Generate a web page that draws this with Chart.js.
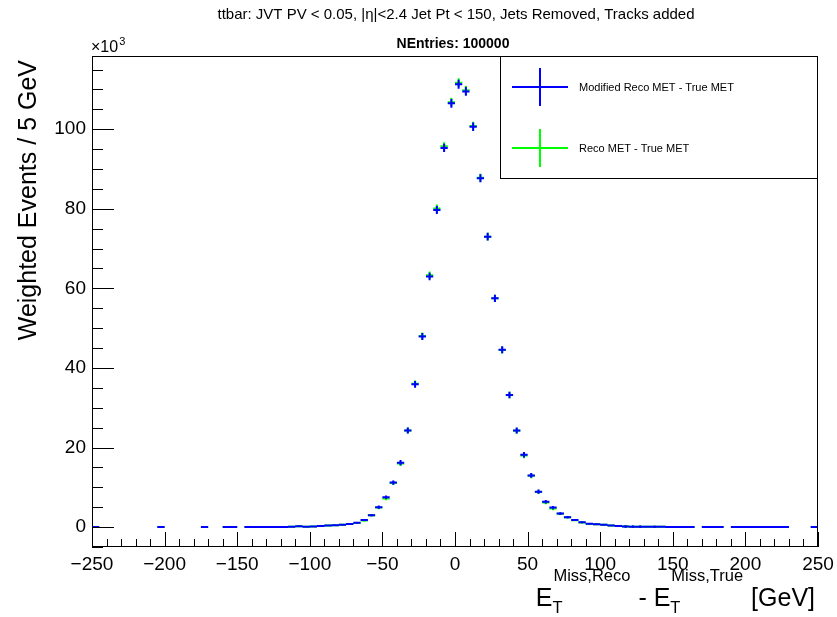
<!DOCTYPE html>
<html>
<head>
<meta charset="utf-8">
<script src="https://cdn.jsdelivr.net/npm/chart.js@4.4.1/dist/chart.umd.min.js"></script>
<style>
  body { margin: 0; background: #fff; }
  canvas { display: block; }
</style>
</head>
<body>
<canvas id="c" width="837" height="617"></canvas>
<script>
        // Bin centres (5 GeV bins) that have entries; empty bins are not drawn
        const binCenters = [
            -247.5, -202.5, -172.5, -157.5, -152.5,
            -142.5, -137.5, -132.5, -127.5, -122.5, -117.5, -112.5, -107.5, -102.5, -97.5,
            -92.5, -87.5, -82.5, -77.5, -72.5, -67.5, -62.5, -57.5, -52.5, -47.5,
            -42.5, -37.5, -32.5, -27.5, -22.5, -17.5, -12.5, -7.5, -2.5, 2.5,
            7.5, 12.5, 17.5, 22.5, 27.5, 32.5, 37.5, 42.5, 47.5, 52.5,
            57.5, 62.5, 67.5, 72.5, 77.5, 82.5, 87.5, 92.5, 97.5, 102.5,
            107.5, 112.5, 117.5, 122.5, 127.5, 132.5, 137.5, 142.5, 147.5, 152.5,
            157.5, 162.5,
            172.5, 177.5, 182.5,
            192.5, 197.5, 202.5, 207.5, 212.5, 217.5, 222.5, 227.5,
            247.5
        ];
        const binWidth = 5;

        // Modified Reco MET - True MET
        const modifiedMet = [
            10, 10, 10, 10, 10,
            20, 20, 25, 30, 35, 45, 60, 200, 110, 150,
            250, 400, 480, 620, 800, 1100, 1800, 3000, 5000, 7500,
            11200, 16200, 24300, 35900, 47900, 63000, 79700, 95300, 106500, 111300,
            109500, 100600, 87700, 73000, 57500, 44600, 33200, 24300, 18200, 13000,
            8900, 6400, 4900, 3400, 2500, 1800, 1200, 820, 740, 620,
            420, 300, 150, 110, 90, 80, 70, 60, 55, 50,
            45, 40,
            20, 20, 20,
            15, 15, 15, 15, 15, 15, 15, 15,
            15
        ];
        const modifiedErr = [
            10, 10, 10, 10, 10,
            15, 15, 15, 20, 20, 25, 30, 150, 50, 60,
            100, 120, 120, 140, 150, 180, 240, 300, 400, 450,
            530, 640, 760, 850, 900, 950, 1000, 1050, 1100, 1120,
            1110, 1060, 1010, 980, 920, 880, 840, 760, 700, 620,
            520, 440, 400, 330, 280, 240, 200, 160, 150, 140,
            120, 100, 300, 300, 300, 20, 280, 20, 250, 15,
            15, 15,
            10, 10, 10,
            10, 10, 10, 10, 10, 10, 10, 10,
            10
        ];

        // Reco MET - True MET
        const recoMet = [
            10, 10, 10, 10, 10,
            20, 20, 25, 30, 35, 45, 60, 230, 110, 150,
            250, 400, 470, 600, 760, 1050, 1650, 2950, 4900, 7200,
            11100, 16000, 24300, 36000, 48000, 63300, 80100, 95700, 106800, 111700,
            109800, 100800, 87800, 73000, 57500, 44500, 33200, 24200, 18000, 12900,
            8850, 6200, 4650, 3350, 2450, 1750, 1150, 760, 700, 600,
            380, 290, 150, 110, 90, 80, 70, 60, 55, 50,
            45, 40,
            20, 20, 20,
            15, 15, 15, 15, 15, 15, 15, 15,
            15
        ];
        const recoErr = [
            10, 10, 10, 10, 10,
            15, 15, 15, 20, 20, 25, 30, 150, 50, 60,
            100, 120, 120, 140, 150, 180, 240, 300, 400, 450,
            530, 640, 760, 850, 900, 950, 1000, 1050, 1100, 1120,
            1110, 1060, 1010, 980, 920, 880, 840, 760, 700, 620,
            520, 440, 400, 330, 280, 240, 200, 160, 150, 140,
            120, 100, 300, 300, 300, 20, 280, 20, 250, 15,
            15, 15,
            10, 10, 10,
            10, 10, 10, 10, 10, 10, 10, 10,
            10
        ];

        const xTickLabels = [-250, -200, -150, -100, -50, 0, 50, 100, 150, 200, 250];
        const yTickLabels = [0, 20, 40, 60, 80, 100];   // in units of 10^3

        const FONT = '"Liberation Sans", Arial, Helvetica, sans-serif';

        function horizontalBars(values) {   // one segment across each bin
            const pts = [];
            binCenters.forEach((c, i) => {
                pts.push({ x: c - binWidth / 2, y: values[i] });
                pts.push({ x: c + binWidth / 2, y: values[i] });
                pts.push({ x: c + binWidth / 2, y: null });
            });
            return pts;
        }

        function verticalBars(values, errors) {   // error bar at each bin centre
            const pts = [];
            binCenters.forEach((c, i) => {
                pts.push({ x: c, y: values[i] - errors[i] });
                pts.push({ x: c, y: values[i] + errors[i] });
                pts.push({ x: c, y: null });
            });
            return pts;
        }

        function drawCross(ctx, cx, cy, color) {
            ctx.strokeStyle = color;
            ctx.lineWidth = 2;
            ctx.beginPath();
            ctx.moveTo(512, cy); ctx.lineTo(568, cy);
            ctx.moveTo(cx, cy - 19); ctx.lineTo(cx, cy + 19);
            ctx.stroke();
        }

        const rootStyle = {
            id: 'rootStyle',
            afterDatasetsDraw(chart) {
                const { ctx, chartArea: a, scales: { x, y } } = chart;
                ctx.save();
                ctx.strokeStyle = '#000';
                ctx.lineWidth = 1;
                ctx.beginPath();
                // x ticks, inside the frame
                for (let v = -250; v <= 250; v += 10) {
                    const px = Math.round(x.getPixelForValue(v)) + 0.5;
                    const len = v % 50 === 0 ? 15 : 8;
                    ctx.moveTo(px, a.bottom);
                    ctx.lineTo(px, a.bottom - len);
                }
                // y ticks
                for (let v = -5; v <= 115; v += 5) {
                    const py = Math.round(y.getPixelForValue(v * 1000)) + 0.5;
                    const len = v % 20 === 0 ? 22 : 11;
                    ctx.moveTo(a.left, py);
                    ctx.lineTo(a.left + len, py);
                }
                ctx.stroke();
                // frame
                ctx.strokeRect(a.left + 0.5, a.top + 0.5, a.right - a.left - 1, a.bottom - a.top - 1);
                ctx.restore();
            },
            afterDraw(chart) {
                const { ctx, chartArea: a, scales: { x, y } } = chart;
                ctx.save();
                ctx.fillStyle = '#000';

                // tick labels
                ctx.font = '19px ' + FONT;
                ctx.textAlign = 'center';
                ctx.textBaseline = 'alphabetic';
                xTickLabels.forEach(v => {
                    const txt = v < 0 ? '\u2212' + Math.abs(v) : String(v);
                    ctx.fillText(txt, x.getPixelForValue(v), 570);
                });
                ctx.textAlign = 'right';
                ctx.textBaseline = 'middle';
                yTickLabels.forEach(v => {
                    ctx.fillText(String(v), 86, y.getPixelForValue(v * 1000));
                });

                // x10^3
                ctx.textAlign = 'left';
                ctx.textBaseline = 'alphabetic';
                ctx.font = '16px ' + FONT;
                ctx.fillText('\u00d710', 91, 52);
                const w10 = ctx.measureText('\u00d710').width;
                ctx.font = '11px ' + FONT;
                ctx.fillText('3', 91 + w10 + 1, 45);

                // titles
                ctx.textAlign = 'center';
                ctx.font = '15px ' + FONT;
                ctx.fillText('ttbar: JVT PV < 0.05, |\u03b7|<2.4 Jet Pt < 150, Jets Removed, Tracks added', 456, 19);
                ctx.font = 'bold 14px ' + FONT;
                ctx.fillText('NEntries: 100000', 453, 48);

                // y axis title
                ctx.save();
                ctx.translate(36, 60);
                ctx.rotate(-Math.PI / 2);
                ctx.textAlign = 'right';
                ctx.font = '25px ' + FONT;
                ctx.fillText('Weighted Events / 5 GeV', 0, 0);
                ctx.restore();

                // x axis title: E_T^{Miss,Reco} - E_T^{Miss,True} [GeV]
                const big = '25px ' + FONT, small = '16.5px ' + FONT;
                const parts = [
                    { t: 'E', f: big, dy: 0 },
                    { sub: 'T', sup: 'Miss,Reco' },
                    { t: ' - ', f: big, dy: 0 },
                    { t: 'E', f: big, dy: 0 },
                    { sub: 'T', sup: 'Miss,True' },
                    { t: ' [GeV]', f: big, dy: 0 }
                ];
                const widthOf = p => {
                    if (p.t) { ctx.font = p.f; return ctx.measureText(p.t).width; }
                    ctx.font = small;
                    return Math.max(ctx.measureText(p.sub).width, ctx.measureText(p.sup).width) + 2;
                };
                const total = parts.reduce((s, p) => s + widthOf(p), 0);
                let cx = 815 - total;
                const base = 606;
                ctx.textAlign = 'left';
                parts.forEach(p => {
                    const w = widthOf(p);
                    if (p.t) {
                        ctx.font = p.f;
                        ctx.fillText(p.t, cx, base);
                    } else {
                        ctx.font = small;
                        ctx.fillText(p.sub, cx, base + 7);
                        ctx.fillText(p.sup, cx + 1, base - 25);
                    }
                    cx += w;
                });

                // legend
                ctx.fillStyle = '#fff';
                ctx.fillRect(500, 56, 318, 123);
                ctx.strokeStyle = '#000';
                ctx.lineWidth = 1;
                ctx.strokeRect(500.5, 56.5, 317, 122);
                drawCross(ctx, 540, 87, '#0000ff');
                drawCross(ctx, 540, 148, '#00ff00');
                ctx.fillStyle = '#000';
                ctx.font = '11px ' + FONT;
                ctx.textBaseline = 'middle';
                ctx.fillText('Modified Reco MET - True MET', 579, 88);
                ctx.fillText('Reco MET - True MET', 579, 149);
                ctx.restore();
            }
        };

        new Chart(document.getElementById('c'), {
            type: 'line',
            data: {
                datasets: [
                    { data: horizontalBars(modifiedMet), borderColor: '#0000ff', borderWidth: 2, order: 0 },
                    { data: verticalBars(modifiedMet, modifiedErr), borderColor: '#0000ff', borderWidth: 2, order: 0 },
                    { data: horizontalBars(recoMet), borderColor: '#00ff00', borderWidth: 2, order: 1 },
                    { data: verticalBars(recoMet, recoErr), borderColor: '#00ff00', borderWidth: 2, order: 1 }
                ]
            },
            options: {
                responsive: false,
                animation: false,
                spanGaps: false,
                layout: { padding: { left: 92, right: 19, top: 56, bottom: 70 } },
                elements: {
                    point: { radius: 0, hoverRadius: 0 },
                    line: { tension: 0, fill: false, borderCapStyle: 'butt' }
                },
                plugins: {
                    legend: { display: false },
                    tooltip: { enabled: false }
                },
                scales: {
                    x: { type: 'linear', min: -250, max: 250, display: false },
                    y: { type: 'linear', min: -5000, max: 118400, display: false }
                }
            },
            plugins: [rootStyle]
        });
</script>
</body>
</html>
